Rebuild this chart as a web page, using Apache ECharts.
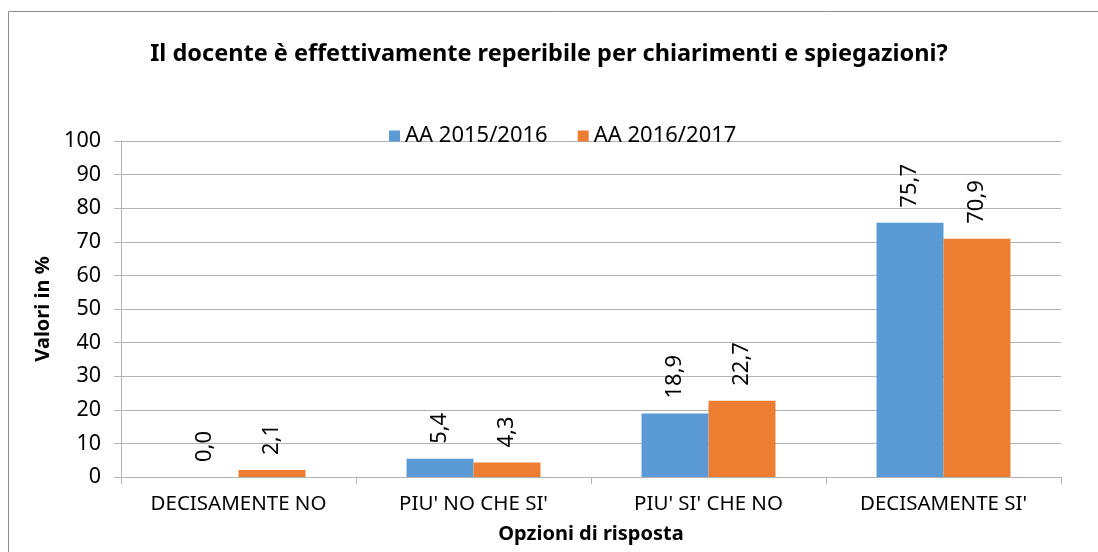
<!DOCTYPE html>
<html>
<head>
<meta charset="utf-8">
<script src="https://cdn.jsdelivr.net/npm/echarts@6/dist/echarts.min.js"></script>
<style>
  html, body { margin: 0; padding: 0; background: #fff; }
  #main { width: 1098px; height: 552px; }
</style>
</head>
<body>
<div id="main"></div>
<script>
const categories = ['DECISAMENTE NO', "PIU' NO CHE SI'", "PIU' SI' CHE NO", "DECISAMENTE SI'"]
const seriesNames = ['AA 2015/2016', 'AA 2016/2017']
const values2015 = [0.0, 5.4, 18.9, 75.7]
const values2016 = [2.1, 4.3, 22.7, 70.9]
const colors = ['#5B9BD5', '#ED7D31']

const font = 'Noto Sans'
const gridColor = '#b3b3b3'

const barLabel = {
  show: true,
  position: 'top',
  rotate: 90,
  align: 'left',
  verticalAlign: 'middle',
  distance: 15,
  fontFamily: font,
  fontSize: 22,
  color: '#000',
  formatter: p => p.value.toFixed(1).replace('.', ',')
}

const chart = echarts.init(document.getElementById('main'))
chart.setOption({
  animation: false,
  graphic: [{
    type: 'rect',
    shape: { x: 8.5, y: 11.5, width: 1200, height: 700 },
    style: { fill: 'none', stroke: '#8c8c8c', lineWidth: 1 },
    silent: true
  }],
  title: {
    text: 'Il docente è effettivamente reperibile per chiarimenti e spiegazioni?',
    left: 'center',
    top: 37,
    textStyle: { fontFamily: font, fontSize: 23.5, fontWeight: 'bold', color: '#000' }
  },
  legend: {
    data: seriesNames,
    top: 120,
    left: 384,
    itemWidth: 11,
    itemHeight: 11,
    itemGap: 30,
    icon: 'rect',
    textStyle: { fontFamily: font, fontSize: 22, color: '#000' }
  },
  grid: { left: 121, right: 37, top: 141, bottom: 75, containLabel: false },
  xAxis: {
    type: 'category',
    data: categories,
    name: 'Opzioni di risposta',
    nameLocation: 'middle',
    nameGap: 47,
    nameTextStyle: { fontFamily: font, fontSize: 20, fontWeight: 'bold', color: '#000' },
    axisLine: { lineStyle: { color: gridColor, width: 1 } },
    axisTick: { show: true, length: 7, lineStyle: { color: gridColor } },
    axisLabel: { fontFamily: font, fontSize: 20.5, color: '#000', margin: 17 }
  },
  yAxis: {
    type: 'value',
    min: 0,
    max: 100,
    interval: 10,
    name: 'Valori in %',
    nameLocation: 'middle',
    nameGap: 68,
    nameTextStyle: { fontFamily: font, fontSize: 20, fontWeight: 'bold', color: '#000' },
    axisLine: { show: true, lineStyle: { color: gridColor, width: 1 } },
    axisTick: { show: true, length: 7, lineStyle: { color: gridColor } },
    axisLabel: { fontFamily: font, fontSize: 21.5, color: '#000', margin: 20 },
    splitLine: { show: true, lineStyle: { color: gridColor, width: 1 } }
  },
  series: [
    {
      name: seriesNames[0],
      type: 'bar',
      data: values2015,
      barWidth: '28.5%',
      barGap: '0%',
      itemStyle: { color: colors[0] },
      label: barLabel
    },
    {
      name: seriesNames[1],
      type: 'bar',
      data: values2016,
      barWidth: '28.5%',
      itemStyle: { color: colors[1] },
      label: barLabel
    }
  ]
})
</script>
</body>
</html>
